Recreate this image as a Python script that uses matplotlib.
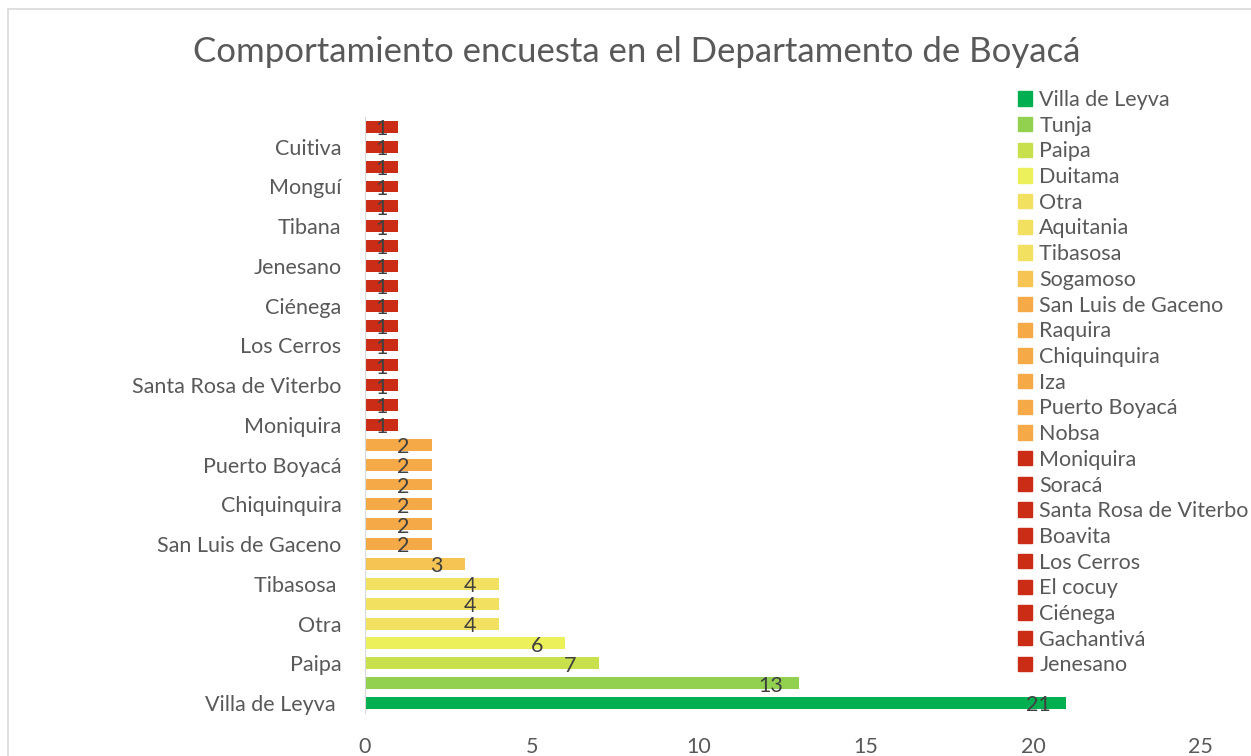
import matplotlib.pyplot as plt
from matplotlib.patches import Patch, Rectangle

# municipios de abajo hacia arriba
municipios = ["Villa de Leyva ", "Tunja", "Paipa", "Duitama", "Otra", "Aquitania",
              "Tibasosa ", "Sogamoso", "San Luis de Gaceno", "Raquira", "Chiquinquira",
              "Iza", "Puerto Boyacá", "Nobsa", "Moniquira", "Soracá",
              "Santa Rosa de Viterbo", "Boavita", "Los Cerros", "El cocuy", "Ciénega",
              "Gachantivá", "Jenesano", "Ramiriquí", "Tibana", "Sotaquirá", "Monguí",
              "Samacá", "Cuitiva", "Garagoa"]
respuestas = [21, 13, 7, 6, 4, 4, 4, 3, 2, 2, 2, 2, 2, 2,
              1, 1, 1, 1, 1, 1, 1, 1, 1, 1, 1, 1, 1, 1, 1, 1]

# color segun el numero de respuestas
colores_valor = {21: "#00B050", 13: "#92D050", 7: "#C8E04B", 6: "#ECF05A",
                 4: "#F2E060", 3: "#F5C453", 2: "#F5A947", 1: "#CB2C16"}
colores = [colores_valor[v] for v in respuestas]

plt.rcParams['font.family'] = ['Lato', 'DejaVu Sans']
gris = "#595959"
tam = 15.5

fig = plt.figure(figsize=(12.51, 7.56), dpi=100)
ax = fig.add_axes([0.2918, 0.0569, 0.6675, 0.7884])

pos = list(range(len(municipios)))
barras = ax.barh(pos, respuestas, height=0.6, color=colores)

# etiquetas de datos
for p, v in zip(pos, respuestas):
    x = max(v - 0.85, v / 2)
    ax.text(x, p - 0.12, str(v), ha='center', va='center', fontsize=tam, color="#404040")

ax.set_xlim(0, 25)
ax.set_ylim(-0.5, len(municipios) - 0.5)
ax.set_xticks([0, 5, 10, 15, 20, 25])
ax.set_yticks(pos[::2])
ax.set_yticklabels(municipios[::2])
ax.tick_params(axis='both', length=0, labelsize=tam, colors=gris)
ax.tick_params(axis='y', pad=17)
ax.tick_params(axis='x', pad=17)
for s in ['top', 'right', 'bottom']:
    ax.spines[s].set_visible(False)
ax.spines['left'].set_color("#D9D9D9")

fig.text(0.509, 0.931, "Comportamiento encuesta en el Departamento de Boyacá",
         ha='center', va='center', fontsize=25, color=gris)

# leyenda (solo caben las primeras 23 entradas)
handles = [Patch(color=c) for c in colores[:23]]
leg = fig.legend(handles, municipios[:23], loc='upper left', bbox_to_anchor=(0.8135, 0.881),
                 frameon=False, fontsize=tam, handlelength=0.65, handleheight=0.65,
                 handletextpad=0.35, labelspacing=0.265, borderaxespad=0, borderpad=0)
for t in leg.get_texts():
    t.set_color(gris)

# borde del area del grafico
fig.patches.append(Rectangle((8 / 1251, -0.1), 1.2, 1.1 - 9 / 756, transform=fig.transFigure,
                             fill=False, edgecolor="#D9D9D9", linewidth=1.2))

plt.savefig("out.png", dpi=100)
